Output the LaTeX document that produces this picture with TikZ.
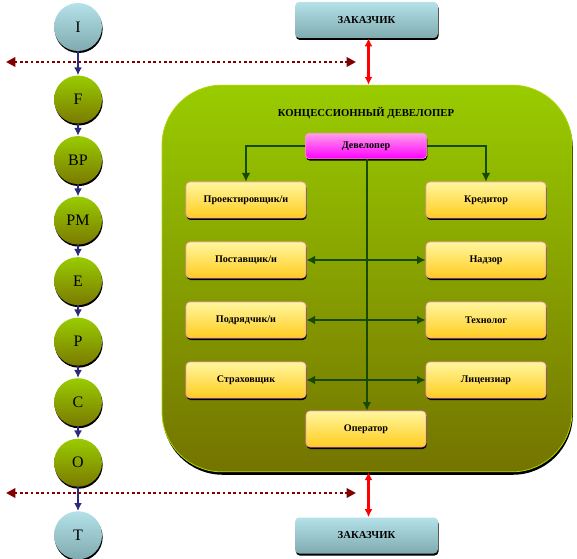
\documentclass[tikz,border=0pt]{standalone}
\usepackage{fontspec}
\setmainfont{Liberation Serif}
\usetikzlibrary{arrows.meta,positioning,shadows}

\definecolor{stagetop}{HTML}{99CC00}
\definecolor{stagebot}{HTML}{7A7A00}
\definecolor{endtop}{HTML}{B4E2E8}
\definecolor{endbot}{HTML}{7FAAB0}
\definecolor{roletop}{HTML}{FFF69E}
\definecolor{rolebot}{HTML}{FFCC1F}
\definecolor{devtop}{HTML}{FF9EE8}
\definecolor{devbot}{HTML}{FF00FF}
\definecolor{linkgreen}{HTML}{174A00}
\definecolor{stagearrow}{HTML}{2B2B7A}
\definecolor{phaseline}{HTML}{800000}

\begin{document}
\begin{tikzpicture}[x=0.75pt, y=-0.75pt, node distance=9pt,
    shade/.style={drop shadow={shadow xshift=0.5pt, shadow yshift=-1.5pt, fill=black, opacity=1}},
    stage/.style={circle, minimum size=36pt, inner sep=0pt, top color=stagetop, bottom color=stagebot, shade, font=\fontsize{12}{14}\selectfont},
    endstage/.style={stage, top color=endtop, bottom color=endbot},
    role/.style={rounded corners=3pt, minimum width=90pt, minimum height=27pt, draw=pink!80!magenta, line width=0.5pt, top color=roletop, bottom color=rolebot, shade, font=\fontsize{7.6}{9}\selectfont\bfseries},
    client/.style={role, draw=none, minimum width=107pt, font=\fontsize{8}{10}\selectfont\bfseries, top color=endtop, bottom color=endbot},
    link/.style={draw=linkgreen, line width=2.1pt, -{Latex[length=6.5pt,width=6.5pt]}}]
  \useasboundingbox (0,0) rectangle (577,559);

  % stages
  \node[endstage] (i) at (78,27) {I};
  \node[stage, below=18pt of i] (f) {F};
  \node[stage, below=of f] (bp) {BP};
  \node[stage, below=of bp] (pm) {PM};
  \node[stage, below=of pm] (e) {E};
  \node[stage, below=of e] (p) {P};
  \node[stage, below=of p] (c) {C};
  \node[stage, below=of c] (o) {O};
  \node[endstage, below=18pt of o] (t) {T};

  % concession developer
  \node[rounded corners=45pt, minimum width=307.5pt, minimum height=290pt, draw=stagetop!80!yellow, line width=0.6pt,
        top color=stagetop, bottom color=stagebot!95!black,
        drop shadow={shadow xshift=0.6pt, shadow yshift=-2.2pt, fill=black, opacity=1}] (frame) at (367,278.5) {};
  \node[font=\fontsize{8}{10}\selectfont\bfseries] (title) at (366,113) {КОНЦЕССИОННЫЙ ДЕВЕЛОПЕР};

  \node[client] (zak1) at (366.5,20) {ЗАКАЗЧИК};
  \node[client] (zak2) at (366.5,535.5) {ЗАКАЗЧИК};

  \node[role, minimum width=91pt, minimum height=19pt, top color=devtop, bottom color=devbot] (dev) at (366,146) {Девелопер};
  \node[role] (proj) at (246,200) {Проектировщик/и};
  \node[role] (supp) at (246,260) {Поставщик/и};
  \node[role] (contr) at (246,320) {Подрядчик/и};
  \node[role] (ins) at (246,380) {Страховщик};
  \node[role] (cred) at (486,200) {Кредитор};
  \node[role] (sup) at (486,260) {Надзор};
  \node[role] (tech) at (486,320) {Технолог};
  \node[role] (lic) at (486,380) {Лицензиар};
  \node[role] (oper) at (366,429) {Оператор};

  % phase borders
  \coordinate (ph1l) at (6,62);
  \coordinate (ph1r) at (356,62);
  \coordinate (ph2l) at (6,493);
  \coordinate (ph2r) at (356,493);
  \draw[phaseline, line width=2pt, dash pattern=on 2pt off 2pt, {Triangle[length=7pt,width=7pt]}-{Triangle[length=7pt,width=7pt]}] (ph1l) -- (ph1r);
  \draw[phaseline, line width=2pt, dash pattern=on 2pt off 2pt, {Triangle[length=7pt,width=7pt]}-{Triangle[length=7pt,width=7pt]}] (ph2l) -- (ph2r);

  \foreach \a/\b in {i/f, f/bp, bp/pm, pm/e, e/p, p/c, c/o, o/t}
    \draw[stagearrow, line width=2pt, -{Latex[length=6pt,width=6pt]}] (\a) -- (\b);

  \draw[red, line width=1.8pt, {Latex[length=6pt,width=6pt]}-{Latex[length=6pt,width=6pt]}] ([xshift=1.5pt]zak1.south) -- ([xshift=1.5pt]zak1.south |- frame.north);
  \draw[red, line width=1.8pt, {Latex[length=6pt,width=6pt]}-{Latex[length=6pt,width=6pt]}] ([xshift=1.5pt]zak2.north |- frame.south) -- ([xshift=1.5pt]zak2.north);

  \draw[link] (dev.west) -| (proj.north);
  \draw[link] (dev.east) -| (cred.north);
  \draw[link] ([xshift=0.7pt]dev.south) -- ([xshift=0.7pt]oper.north);
  \draw[link, {Latex[length=6.5pt,width=6.5pt]}-{Latex[length=6.5pt,width=6.5pt]}] (supp) -- (sup);
  \draw[link, {Latex[length=6.5pt,width=6.5pt]}-{Latex[length=6.5pt,width=6.5pt]}] (contr) -- (tech);
  \draw[link, {Latex[length=6.5pt,width=6.5pt]}-{Latex[length=6.5pt,width=6.5pt]}] (ins) -- (lic);
\end{tikzpicture}
\end{document}
